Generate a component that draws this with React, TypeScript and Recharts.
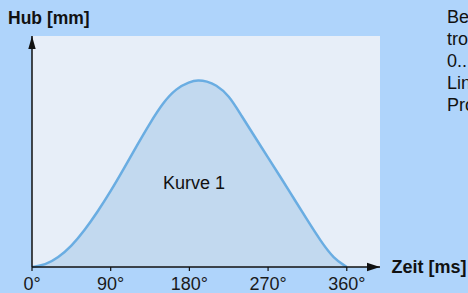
import { AreaChart, Area, XAxis, YAxis, CartesianGrid } from 'recharts';

// Nockenkurve: Winkel in Grad, Hub in mm
const angles = [0, 15, 30, 45, 60, 75, 90, 105, 120, 135, 150, 165, 180, 190, 200, 210, 225, 240, 255, 270, 285, 300, 315, 330, 345, 360];
const hub = [0, 0.1, 0.5, 1.1, 1.95, 2.95, 4.05, 5.25, 6.5, 7.7, 8.8, 9.55, 9.9, 10.0, 9.93, 9.75, 9.2, 8.05, 6.95, 5.85, 4.75, 3.62, 2.5, 1.4, 0.45, 0];
const xTicks = [0, 90, 180, 270, 360];
const sideText = [
  'Bewegungsprofil der Kurve',
  'tronische Kurvenscheibe',
  '0...360° Leitachse',
  'Lineare Interpolation',
  'Profil: Rast-Hub-Rast',
];

const data = angles.map((a, i) => ({ angle: a, hub: hub[i] }));

const font = '"Liberation Sans", Arial, sans-serif';
const bg = '#afd4fb';

export default function App() {
  return (
    <div
      style={{
        position: 'fixed',
        top: 0,
        left: 0,
        width: 468,
        height: 293,
        overflow: 'hidden',
        background: bg,
        fontFamily: font,
      }}
    >
      <AreaChart
        width={468}
        height={293}
        data={data}
        margin={{ top: 36, right: 88, bottom: 0, left: 31 }}
      >
        <CartesianGrid horizontal={false} vertical={false} fill="#e7eef8" />
        <XAxis
          dataKey="angle"
          type="number"
          domain={[0, 398]}
          ticks={xTicks}
          tickFormatter={(v) => `${v}°`}
          height={26}
          tickSize={4}
          tickMargin={6}
          axisLine={{ stroke: '#111', strokeWidth: 1.5 }}
          tickLine={{ stroke: '#111', strokeWidth: 1.2 }}
          tick={{ fill: '#1a1a1a', fontSize: 18, fontFamily: font }}
        />
        <YAxis
          type="number"
          domain={[0, 12.35]}
          width={1}
          tick={false}
          tickLine={false}
          axisLine={{ stroke: '#111', strokeWidth: 1.5 }}
        />
        <Area
          type="basis"
          dataKey="hub"
          stroke="#6aade2"
          strokeWidth={2.5}
          fill="#c2d9ef"
          fillOpacity={1}
          isAnimationActive={false}
        />
      </AreaChart>

      {/* Pfeilspitzen und Beschriftungen */}
      <svg
        width={468}
        height={293}
        style={{ position: 'absolute', top: 0, left: 0, pointerEvents: 'none' }}
      >
        <polygon points="32,36 28.3,49 35.7,49" fill="#111" />
        <polygon points="380,267 367,262.7 367,271.3" fill="#111" />
        <text x={8} y={24} fontSize={17.5} fontWeight="bold" fontFamily={font} fill="#111">
          Hub [mm]
        </text>
        <text x={391.5} y={273} fontSize={18} fontWeight="bold" fontFamily={font} fill="#111">
          Zeit [ms]
        </text>
        <text x={194} y={189} fontSize={18} fontFamily={font} fill="#111" textAnchor="middle">
          Kurve 1
        </text>
      </svg>

      <div
        style={{
          position: 'absolute',
          top: 6,
          left: 447,
          fontSize: 18,
          lineHeight: '22px',
          color: '#111',
          whiteSpace: 'nowrap',
        }}
      >
        {sideText.map((t) => (
          <div key={t}>{t}</div>
        ))}
      </div>
    </div>
  );
}
